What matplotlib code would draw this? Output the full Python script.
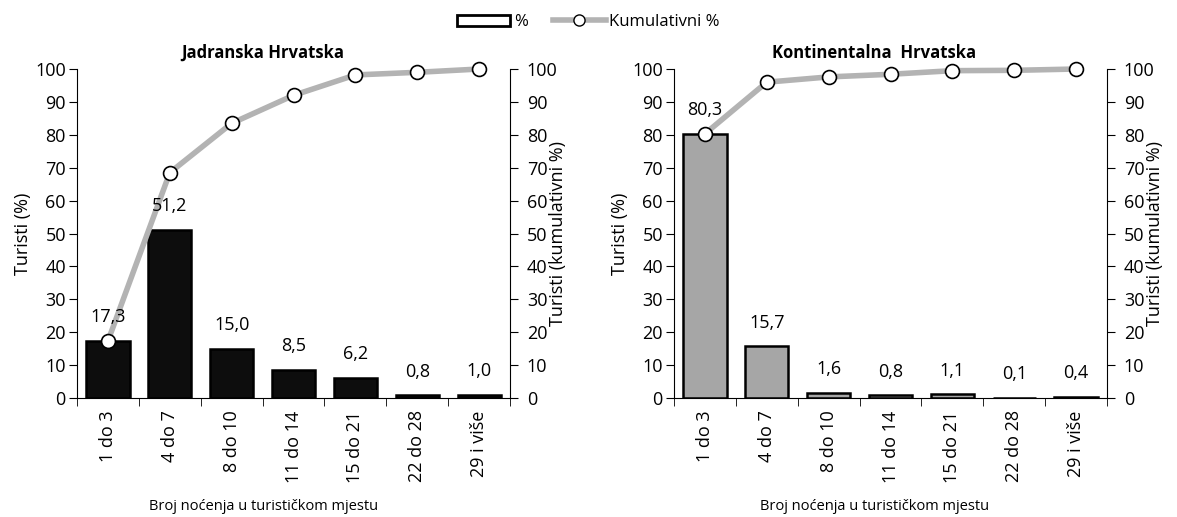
import matplotlib.pyplot as plt
from matplotlib.patches import Patch
from matplotlib.lines import Line2D

plt.rcParams['font.family'] = ['Open Sans', 'DejaVu Sans']

categories = ["1 do 3", "4 do 7", "8 do 10", "11 do 14", "15 do 21", "22 do 28", "29 i više"]

jadran_pct = [17.3, 51.2, 15.0, 8.5, 6.2, 0.8, 1.0]
jadran_cum = [17.3, 68.5, 83.5, 92.0, 98.2, 99.0, 100.0]

kont_pct = [80.3, 15.7, 1.6, 0.8, 1.1, 0.1, 0.4]
kont_cum = [80.3, 96.0, 97.6, 98.4, 99.5, 99.6, 100.0]

titles = ["Jadranska Hrvatska", "Kontinentalna  Hrvatska"]
bar_colors = ["#0d0d0d", "#a6a6a6"]

fig = plt.figure(figsize=(11.77, 5.17), dpi=100)

panels = [
    (0.0654, 0.43, jadran_pct, jadran_cum),
    (0.5726, 0.463, kont_pct, kont_cum),
]

for i, (left, tx, pct, cum) in enumerate(panels):
    ax = fig.add_axes([left, 0.2302, 0.368, 0.6363])
    x = list(range(len(categories)))
    ax.bar(x, pct, width=0.7, color=bar_colors[i], edgecolor="black", linewidth=1.8, zorder=2)
    ax.set_xlim(-0.5, 6.5)
    ax.set_ylim(0, 100)
    ax.set_yticks(range(0, 101, 10))
    ax.set_xticks(x)
    ax.set_xticklabels(categories, rotation=90, fontsize=13)
    ax.tick_params(axis="x", length=0, pad=9)
    ax.set_xticks([k + 0.5 for k in range(-1, 7)], minor=True)
    ax.tick_params(axis="x", which="minor", length=6, direction="out")
    ax.tick_params(axis="y", direction="out", length=6, labelsize=13, pad=2)
    ax.spines["top"].set_visible(False)
    ax.spines["right"].set_visible(False)
    ax.set_ylabel("Turisti (%)", fontsize=13, labelpad=2)
    ax.text(tx, 1.05, titles[i], transform=ax.transAxes, ha="center", va="center",
            fontsize=12, fontweight="bold")
    ax.text(tx, -0.33, "Broj noćenja u turističkom mjestu", transform=ax.transAxes,
            ha="center", va="center", fontsize=10.5)

    ax2 = ax.twinx()
    ax2.plot(x, cum, color="#b3b3b3", linewidth=4, marker="o", markersize=10,
             markerfacecolor="white", markeredgecolor="black", markeredgewidth=1.2,
             zorder=3, clip_on=False)
    # value labels drawn on the twin axes so they sit above the line
    for xi, v in zip(x, pct):
        ax2.annotate(f"{v:.1f}".replace(".", ","), (xi, v), xytext=(0, 17),
                     textcoords="offset points", ha="center", va="center",
                     fontsize=13, zorder=5)
    ax2.set_ylim(0, 100)
    ax2.set_yticks(range(0, 101, 10))
    ax2.tick_params(axis="y", direction="out", length=6, labelsize=13, pad=6)
    ax2.spines["top"].set_visible(False)
    ax2.spines["left"].set_visible(False)
    ax2.spines["bottom"].set_visible(False)
    ax2.set_ylabel("Turisti (kumulativni %)", fontsize=13, labelpad=-6)

handles = [
    Patch(facecolor="white", edgecolor="black", linewidth=2),
    Line2D([], [], color="#b3b3b3", linewidth=4, marker="o", markersize=8,
           markerfacecolor="white", markeredgecolor="black"),
]
fig.legend(handles, ["%", "Kumulativni %"], loc="center", bbox_to_anchor=(0.5, 0.957),
           ncol=2, frameon=False, fontsize=12, handlelength=3.2, handletextpad=0.2,
           columnspacing=1.5)

fig.savefig("out.png", dpi=100)
